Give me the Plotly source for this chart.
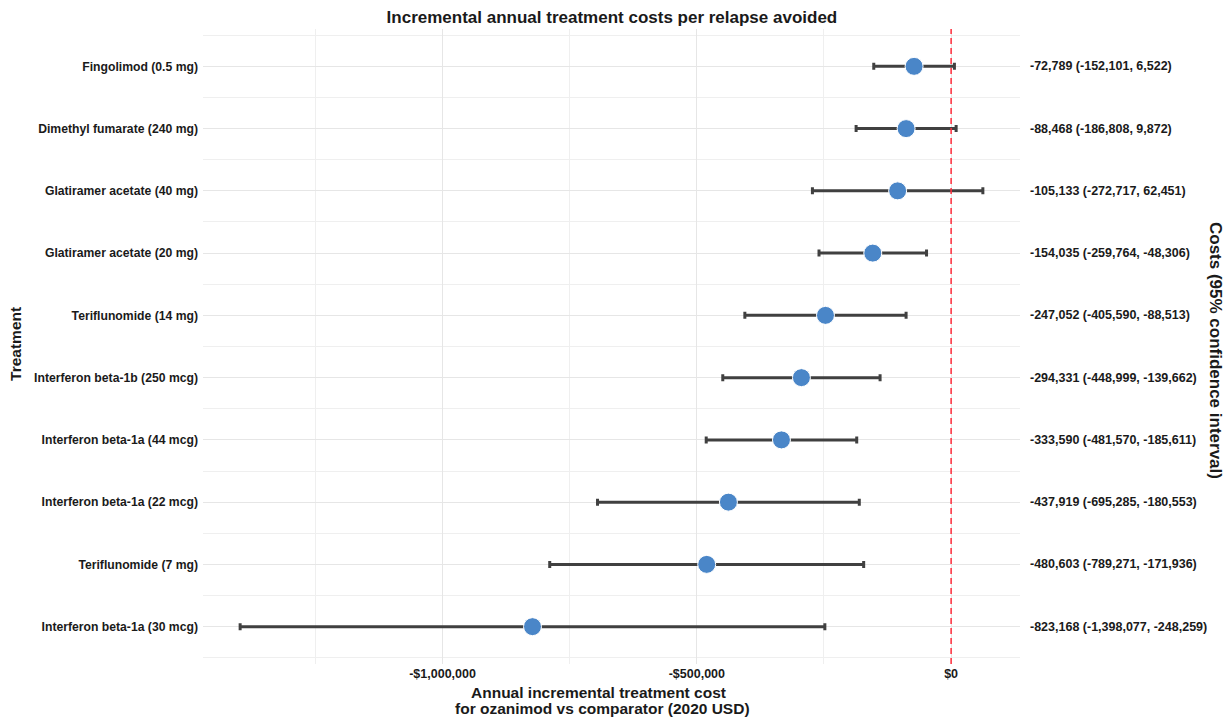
import plotly.graph_objects as go

treatments = [
    "Fingolimod (0.5 mg)",
    "Dimethyl fumarate (240 mg)",
    "Glatiramer acetate (40 mg)",
    "Glatiramer acetate (20 mg)",
    "Teriflunomide (14 mg)",
    "Interferon beta-1b (250 mcg)",
    "Interferon beta-1a (44 mcg)",
    "Interferon beta-1a (22 mcg)",
    "Teriflunomide (7 mg)",
    "Interferon beta-1a (30 mcg)",
]
cost = [-72789, -88468, -105133, -154035, -247052, -294331, -333590, -437919, -480603, -823168]
lower = [-152101, -186808, -272717, -259764, -405590, -448999, -481570, -695285, -789271, -1398077]
upper = [6522, 9872, 62451, -48306, -88513, -139662, -185611, -180553, -171936, -248259]

x_tickvals = [-1000000, -500000, 0]
x_ticktext = ["-$1,000,000", "-$500,000", "$0"]

n = len(treatments)
ypos = [n - 1 - i for i in range(n)]

FONT = "Liberation Sans, Arial, sans-serif"
TXT = "#1a1a1a"

fig = go.Figure()
fig.add_trace(go.Scatter(
    x=cost, y=ypos, mode="markers",
    marker=dict(size=18, color="#4A86C8", line=dict(color="white", width=1)),
    error_x=dict(type="data", symmetric=False,
                 array=[u - c for u, c in zip(upper, cost)],
                 arrayminus=[c - l for c, l in zip(cost, lower)],
                 color="#404040", thickness=3, width=3.5),
    showlegend=False,
))

fig.add_shape(type="line", xref="x", yref="paper", x0=0, x1=0, y0=0, y1=1,
              line=dict(color="#FF2D3C", width=1.5, dash="6px,4px"))

def fmt(v):
    return f"{v:,}"

for yp, c, l, u in zip(ypos, cost, lower, upper):
    fig.add_annotation(xref="paper", yref="y", x=1.0095, y=yp, xanchor="left",
                       text=f"<b>{fmt(c)} ({fmt(l)}, {fmt(u)})</b>", showarrow=False,
                       font=dict(size=12.5, color=TXT, family=FONT))

fig.add_annotation(xref="paper", yref="paper", x=1.2387, y=0.4945, textangle=90,
                   xanchor="center", yanchor="middle",
                   text="<b>Costs (95% confidence interval)</b>", showarrow=False,
                   font=dict(size=17, color=TXT, family=FONT))

fig.add_annotation(xref="paper", yref="paper", x=-0.2289, y=0.504, textangle=-90,
                   xanchor="center", yanchor="middle",
                   text="<b>Treatment</b>", showarrow=False,
                   font=dict(size=15.5, color=TXT, family=FONT))

# x-axis title (two lines, tight spacing)
fig.add_annotation(xref="paper", yref="paper", x=0.4835, y=(664 - 692) / 635,
                   xanchor="center", yanchor="middle",
                   text="<b>Annual incremental treatment cost</b>",
                   showarrow=False, font=dict(size=15.5, color=TXT, family=FONT))
fig.add_annotation(xref="paper", yref="paper", x=0.4885, y=(664 - 708) / 635,
                   xanchor="center", yanchor="middle",
                   text="<b>for ozanimod vs comparator (2020 USD)</b>",
                   showarrow=False, font=dict(size=15.5, color=TXT, family=FONT))

fig.update_layout(
    width=1230, height=718,
    paper_bgcolor="white", plot_bgcolor="white",
    margin=dict(l=203, r=210, t=29, b=54, autoexpand=False),
    font=dict(family=FONT, color=TXT),
    title=dict(text="<b>Incremental annual treatment costs per relapse avoided</b>",
               x=0.4975, xanchor="center", y=0.976, yanchor="middle",
               font=dict(size=17, color=TXT)),
    xaxis=dict(range=[-1471103, 135477], tickvals=x_tickvals, ticktext=[f"<b>{t}</b>" for t in x_ticktext],
               showgrid=True, gridcolor="#E6E6E6", gridwidth=1, zeroline=False, automargin=False,
               showline=False, ticks="", ticklabelstandoff=0, tickfont=dict(size=12.5, color=TXT),
               minor=dict(tickvals=[-1250000, -750000, -250000], showgrid=True,
                          gridcolor="#EFEFEF", gridwidth=1)),
    yaxis=dict(range=[-0.6, n - 0.4], tickvals=ypos, ticktext=[f"<b>{t}</b>" for t in treatments],
               showgrid=True, gridcolor="#E6E6E6", gridwidth=1, zeroline=False, automargin=False,
               showline=False, ticks="", ticklabelstandoff=4, tickfont=dict(size=12.2, color=TXT),
               minor=dict(tickvals=[i + 0.5 for i in range(-1, n)], showgrid=True,
                          gridcolor="#EFEFEF", gridwidth=1)),
)

fig.write_html("out.html")
